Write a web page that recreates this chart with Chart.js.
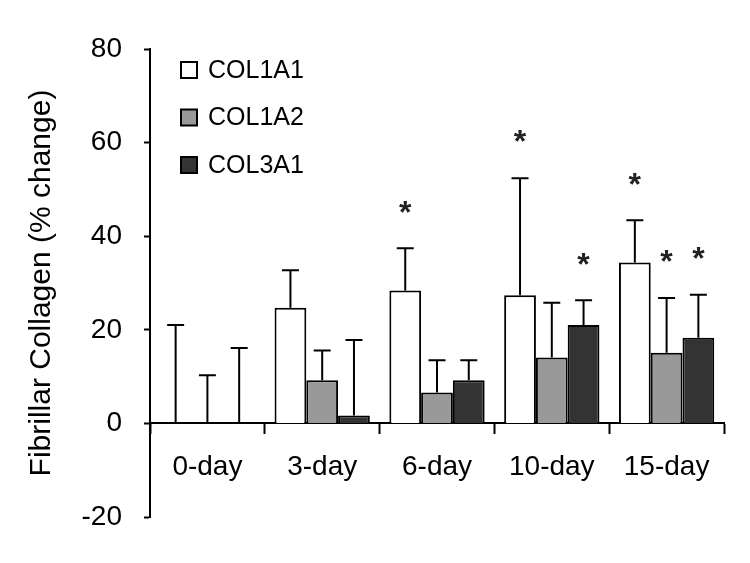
<!DOCTYPE html>
<html>
<head>
<meta charset="utf-8">
<script src="https://cdn.jsdelivr.net/npm/chart.js@4/dist/chart.umd.min.js"></script>
<style>
  html, body { margin: 0; padding: 0; background: #fff; }
  #wrap { width: 750px; height: 563px; }
</style>
</head>
<body>
<div id="wrap"><canvas id="collagenChart"></canvas></div>
<script>
// Values
const days = ['0-day', '3-day', '6-day', '10-day', '15-day'];
const yTicks = [-20, 0, 20, 40, 60, 80];

const col1a1 = [0, 24.7, 28.4, 27.4, 34.4];
const col1a2 = [0, 9.2, 6.6, 14.1, 15.1];
const col3a1 = [0, 1.7, 9.2, 21.0, 18.3];

// upper error bar (SD) for each bar
const col1a1Err = [21.0, 8.0, 9.0, 25.0, 9.0];
const col1a2Err = [10.3, 6.4, 6.9, 11.7, 11.7];
const col3a1Err = [16.1, 16.1, 4.3, 5.3, 9.2];

// significance asterisks
const col1a1Sig = [false, false, true, true, true];
const col1a2Sig = [false, false, false, false, true];
const col3a1Sig = [false, false, false, true, true];

const FONT = 'Liberation Sans, Arial, sans-serif';
Chart.defaults.font.family = FONT;
Chart.defaults.color = '#000';

// Draw error bars and asterisks on top of the bars
const errorBars = {
  id: 'errorBars',
  afterDatasetsDraw(chart) {
    const ctx = chart.ctx;
    const y = chart.scales.y;
    chart.data.datasets.forEach((ds, i) => {
      const meta = chart.getDatasetMeta(i);
      meta.data.forEach((bar, j) => {
        const top = y.getPixelForValue(ds.data[j] + ds.errors[j]);
        ctx.save();
        ctx.strokeStyle = '#000';
        ctx.lineWidth = 2;
        ctx.beginPath();
        ctx.moveTo(bar.x, bar.y);
        ctx.lineTo(bar.x, top);
        ctx.moveTo(bar.x - 8.5, top);
        ctx.lineTo(bar.x + 8.5, top);
        ctx.stroke();
        if (ds.sig[j]) {
          const size = 32;
          ctx.fillStyle = '#222';
          ctx.font = 'bold ' + size + 'px ' + FONT;
          ctx.textAlign = 'center';
          ctx.textBaseline = 'alphabetic';
          // asterisk glyph centre sits ~0.57em above the baseline
          ctx.fillText('*', bar.x, top - 44 + size * 0.57);
        }
        ctx.restore();
      });
    });
  }
};

// Legend drawn inside the plot, top-left
const insideLegend = {
  id: 'insideLegend',
  afterDraw(chart) {
    const { ctx, chartArea } = chart;
    chart.data.datasets.forEach((ds, i) => {
      const cy = chartArea.top + 21 + i * 47.5;
      const bx = chartArea.left + 31;
      ctx.save();
      ctx.fillStyle = ds.backgroundColor;
      ctx.fillRect(bx, cy - 8, 16, 16);
      ctx.strokeStyle = '#000';
      ctx.lineWidth = 2;
      ctx.strokeRect(bx, cy - 8, 16, 16);
      ctx.fillStyle = '#000';
      ctx.font = '25px ' + FONT;
      ctx.textAlign = 'left';
      ctx.textBaseline = 'middle';
      ctx.fillText(ds.label, bx + 27, cy + 1);
      ctx.restore();
    });
  }
};

function makeDataset(label, data, errors, sig, fill) {
  return {
    label: label,
    data: data,
    errors: errors,
    sig: sig,
    backgroundColor: fill,
    borderColor: '#000',
    borderWidth: 2,
    borderSkipped: 'bottom',
    categoryPercentage: 0.83,
    barPercentage: 1.0
  };
}

new Chart(document.getElementById('collagenChart'), {
  type: 'bar',
  data: {
    labels: days,
    datasets: [
      makeDataset('COL1A1', col1a1, col1a1Err, col1a1Sig, '#ffffff'),
      makeDataset('COL1A2', col1a2, col1a2Err, col1a2Sig, '#999999'),
      makeDataset('COL3A1', col3a1, col3a1Err, col3a1Sig, '#333333')
    ]
  },
  options: {
    responsive: true,
    maintainAspectRatio: false,
    animation: false,
    layout: { padding: { top: 49, bottom: 46, left: 0, right: 26 } },
    plugins: {
      legend: { display: false },
      tooltip: { enabled: false }
    },
    scales: {
      x: {
        position: { y: 0 },
        grid: { drawOnChartArea: false, offset: true, tickLength: 10, tickColor: '#000', tickWidth: 2 },
        border: { color: '#000', width: 2 },
        ticks: { color: '#000', font: { size: 28 }, padding: 17, maxRotation: 0, autoSkip: false }
      },
      y: {
        min: -20,
        max: 80,
        afterBuildTicks: s => { s.ticks = yTicks.map(v => ({ value: v })); },
        afterFit: s => { s.width = 150; },
        grid: { drawOnChartArea: false, tickLength: 6, tickColor: '#000', tickWidth: 2 },
        border: { color: '#000', width: 2 },
        ticks: { color: '#000', font: { size: 28 }, padding: 22 },
        title: {
          display: true,
          text: 'Fibrillar Collagen (% change)',
          color: '#000',
          font: { size: 30 },
          padding: { top: 24, bottom: 0 }
        }
      }
    }
  },
  plugins: [errorBars, insideLegend]
});
</script>
</body>
</html>
